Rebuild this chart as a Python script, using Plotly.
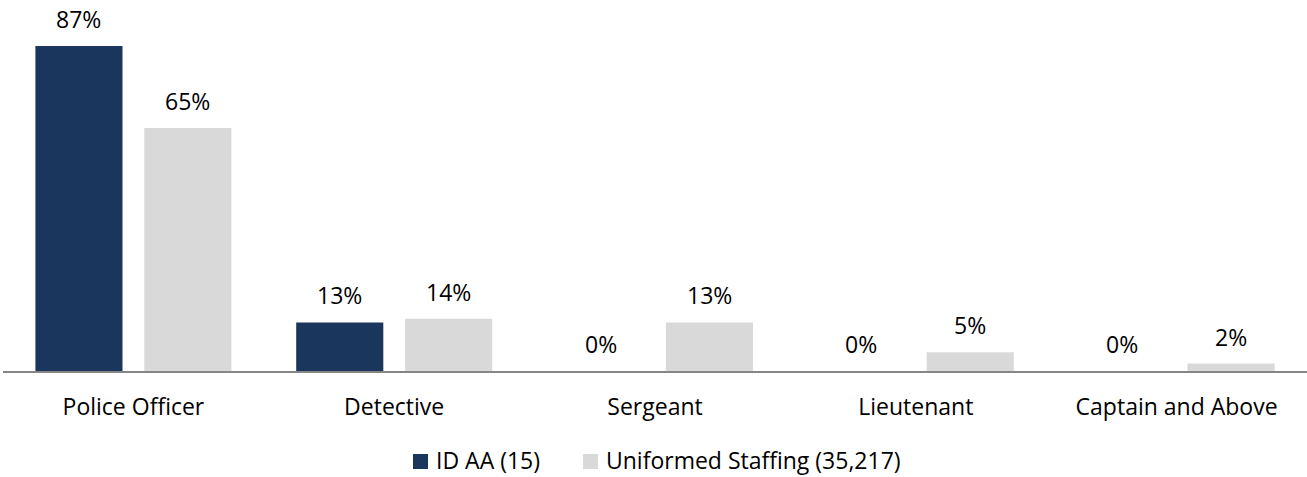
import plotly.graph_objects as go

# Rank categories and share of members in each rank (percent)
categories = ["Police Officer", "Detective", "Sergeant", "Lieutenant", "Captain and Above"]
id_aa = [87, 13, 0, 0, 0]
uniformed = [65, 14, 13, 5, 2]
series_names = ["ID AA (15)", "Uniformed Staffing (35,217)"]

NAVY = "#1b365d"
GRAY = "#d9d9d9"
FONT = "Open Sans"
FS = 23

W, H = 1307, 477
ML, MR, MT, MB = 3, 0, 16, 106
PW, PH = W - ML - MR, H - MT - MB


def px_x(px):
    return (px - ML) / PW


def px_y(py):
    return (H - MB - py) / PH


fig = go.Figure()
fig.add_trace(go.Bar(x=categories, y=id_aa, name=series_names[0],
                     marker=dict(color=NAVY, line=dict(width=0))))
fig.add_trace(go.Bar(x=categories, y=uniformed, name=series_names[1],
                     marker=dict(color=GRAY, line=dict(width=0))))

# Value labels above each bar
offset = 54.5
for vals, sx in ((id_aa, -offset), (uniformed, offset)):
    for i, v in enumerate(vals):
        fig.add_annotation(x=i, y=v, text=f"{v}%", showarrow=False,
                           xref="x", yref="y", xshift=sx, yshift=27,
                           yanchor="middle", font=dict(size=FS, color="#000000", family=FONT))

# Legend drawn as square swatches with text beside them
legend_items = [(series_names[0], NAVY, 413), (series_names[1], GRAY, 583)]
for name, color, x0 in legend_items:
    fig.add_shape(type="rect", xref="paper", yref="paper",
                  x0=px_x(x0), x1=px_x(x0 + 15), y0=px_y(469), y1=px_y(454),
                  fillcolor=color, line=dict(width=0))
    fig.add_annotation(x=px_x(x0 + 21), y=px_y(460), xref="paper", yref="paper",
                       text=name, showarrow=False, xanchor="left", yanchor="middle",
                       font=dict(size=FS, color="#000000", family=FONT))

fig.update_layout(
    width=W, height=H,
    margin=dict(l=ML, r=MR, t=MT, b=MB, autoexpand=False),
    paper_bgcolor="white", plot_bgcolor="white",
    barmode="group", bargap=0.165, bargroupgap=0.2,
    font=dict(family=FONT, size=FS, color="#000000"),
    showlegend=False,
    xaxis=dict(showline=True, linecolor="#868686", linewidth=2, ticks="",
               ticklabelstandoff=14, showgrid=False, range=[-0.5, 4.5],
               automargin=False, tickfont=dict(size=FS)),
    yaxis=dict(range=[0, 95], visible=False, showgrid=False, zeroline=False,
               automargin=False),
)

fig.write_html("out.html")
